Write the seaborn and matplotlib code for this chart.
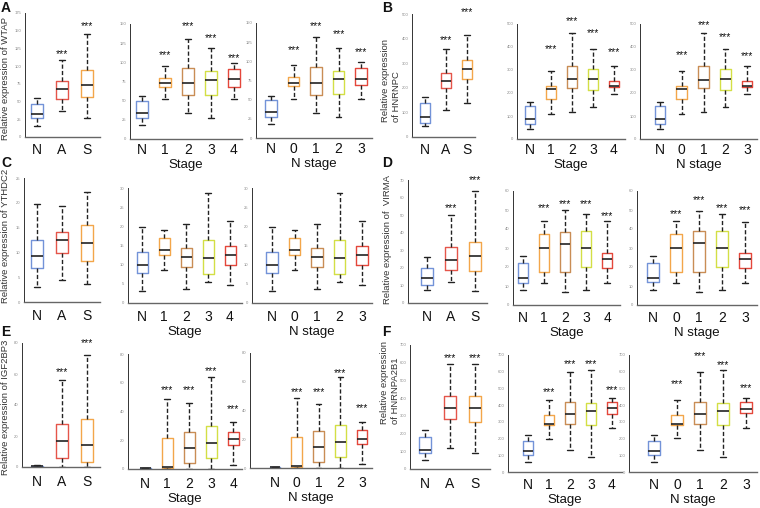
import numpy as np
import pandas as pd
import matplotlib
matplotlib.use("Agg")
import matplotlib.pyplot as plt
import seaborn as sns

sns.set_theme(style="white")
plt.rcParams['font.family'] = ['Liberation Sans', 'DejaVu Sans']

# ---------------- categories ----------------
TISSUE = ["N", "A", "S"]
STAGE = ["N", "1", "2", "3", "4"]
NSTAGE = ["N", "0", "1", "2", "3"]

# ---------------- five-number summaries [min, q1, median, q3, max] ----------------
WTAP_TISSUE = [[16, 27, 33, 47, 55], [37, 53, 68, 79, 109], [27, 57, 74, 94, 146]]
WTAP_STAGE = [[18, 27, 34, 49, 56], [52, 68, 73, 80, 95], [34, 57, 73, 92, 131],
              [27, 58, 77, 89, 119], [52, 68, 78, 91, 99]]
WTAP_NSTAGE = [[18, 28, 34, 50, 55], [51, 68, 72, 80, 95], [33, 56, 72, 92, 132],
               [27, 58, 77, 88, 118], [51, 69, 77, 91, 99]]
WTAP_TISSUE_SIG = [None, 117, 156]
WTAP_STAGE_SIG = [None, 110, 147, 132, 106]
WTAP_NSTAGE_SIG = [None, 115, 146, 136, 112]

HNRNPC_TISSUE = [[43, 57, 81, 140, 162], [108, 199, 227, 262, 359], [140, 235, 276, 313, 413]]
HNRNPC_STAGE = [[43, 65, 88, 142, 161], [110, 174, 217, 232, 297], [117, 222, 259, 316, 461],
                [141, 214, 261, 304, 390], [196, 225, 232, 251, 316]]
HNRNPC_NSTAGE = [[43, 65, 88, 142, 163], [110, 174, 219, 232, 294], [116, 222, 258, 316, 459],
                 [139, 214, 261, 304, 390], [197, 226, 232, 251, 316]]
HNRNPC_TISSUE_SIG = [None, 392, 509]
HNRNPC_STAGE_SIG = [None, 391, 514, 462, 378]
HNRNPC_NSTAGE_SIG = [None, 367, 494, 441, 360]

YTHDC2_TISSUE = [[3.0, 6.9, 9.2, 12.6, 19.8], [4.4, 9.8, 12.4, 14.2, 19.3], [3.7, 8.2, 11.9, 15.5, 22.1]]
YTHDC2_STAGE = [[3.2, 7.8, 10.0, 13.3, 19.8], [8.7, 12.4, 13.9, 16.9, 19.1], [3.7, 9.4, 12.0, 14.3, 20.7],
                [5.6, 7.6, 11.7, 16.4, 28.6], [4.7, 10.0, 12.4, 14.9, 21.5]]
YTHDC2_NSTAGE = [[3.2, 7.8, 10.0, 13.3, 19.8], [8.7, 12.4, 13.9, 16.9, 19.1], [3.7, 9.4, 12.0, 14.3, 20.7],
                 [5.6, 7.6, 11.7, 16.4, 28.6], [4.7, 10.0, 12.4, 14.9, 21.5]]

VIRMA_TISSUE = [[7.4, 10.5, 14, 20, 26], [12, 19, 24.5, 32, 50], [7, 18, 27, 35, 64]]
VIRMA_STAGE = [[7.9, 11.8, 14, 22.3, 26], [11.4, 17.5, 29.8, 37.2, 44.2], [7, 17.5, 32, 38.6, 50],
               [7.9, 20.2, 29.8, 39, 47.7], [11.4, 19.3, 24, 27.2, 44.2]]
VIRMA_NSTAGE = [[8, 12, 14, 22.3, 26], [11.4, 17.5, 29.8, 37.2, 44.2], [7, 17.5, 32.5, 38.9, 49.6],
                [7.9, 20.2, 29.8, 38.9, 47.7], [11.4, 19.3, 24, 27.2, 43.9]]
VIRMA_TISSUE_SIG = [None, 54, 70]
VIRMA_STAGE_SIG = [None, 51, 53, 53, 47]
VIRMA_NSTAGE_SIG = [None, 48, 55, 51, 50]

IGF2BP3_TISSUE = [[0.1, 0.2, 0.4, 0.7, 1.0], [0, 5.5, 17, 27.5, 56], [0, 3.5, 14, 31, 72]]
IGF2BP3_STAGE = [[0.1, 0.2, 0.4, 0.7, 1.0], [0, 0.5, 1.5, 21.5, 48.5], [0, 4.2, 14.6, 26, 45.8],
                 [0, 7.6, 18, 29.6, 64], [3, 17, 20.8, 26, 33]]
IGF2BP3_NSTAGE = [[0.1, 0.2, 0.4, 0.7, 1.0], [0, 0.5, 1.5, 21.5, 48.5], [0, 4.2, 14.3, 26, 44.5],
                  [0, 7.6, 18, 29.6, 63], [2.5, 17, 20.5, 26.5, 32]]
IGF2BP3_TISSUE_SIG = [None, 61, 80]
IGF2BP3_STAGE_SIG = [None, 55, 55, 68, 42]
IGF2BP3_NSTAGE_SIG = [None, 53, 53, 66, 42]

HNRNPA2B1_TISSUE = [[52, 92, 106, 178, 222], [118, 280, 342, 410, 592], [92, 264, 347, 413, 595]]
HNRNPA2B1_STAGE = [[58, 100, 124, 186, 222], [200, 280, 286, 342, 432], [132, 290, 348, 420, 596],
                   [92, 280, 364, 412, 612], [264, 350, 380, 418, 444]]
HNRNPA2B1_NSTAGE = [[58, 100, 124, 186, 222], [202, 280, 286, 342, 428], [132, 290, 348, 418, 598],
                    [92, 280, 362, 412, 612], [264, 352, 378, 418, 444]]
HNRNPA2B1_TISSUE_SIG = [None, 628, 628]
HNRNPA2B1_STAGE_SIG = [None, 478, 648, 648, 492]
HNRNPA2B1_NSTAGE_SIG = [None, 526, 692, 640, 500]

# ---------------- styles ----------------
BLUE, RED, ORANGE, BROWN, LIME = "#7393d8", "#e5554a", "#f3a64a", "#c98d55", "#d3df45"
TISSUE_COLORS = [BLUE, RED, ORANGE]
STAGE_COLORS = [BLUE, ORANGE, BROWN, LIME, "#e4473b"]

W, H = 760, 508
fig = plt.figure(figsize=(W / 100, H / 100), dpi=100)
fig.patch.set_facecolor("white")


def ftxt(x, y, s, **kw):
    fig.text(x / W, 1 - y / H, s, **kw)


def draw(rect, c0, sp, ymax, step, cats, boxes, colors, sig=None, xlabel=None, pad=3):
    L, R, T, B = rect
    ax = fig.add_axes([L / W, 1 - B / H, (R - L) / W, (B - T) / H])
    df = pd.DataFrame({"group": np.repeat(cats, 5),
                       "value": np.concatenate([np.asarray(b, float) for b in boxes])})
    sns.boxplot(data=df, x="group", y="value", hue="group", order=cats, hue_order=cats,
                palette=dict(zip(cats, colors)), fill=False, width=0.5, whis=(0, 100),
                linewidth=1.0, showfliers=False, legend=False, ax=ax,
                whiskerprops={"color": "#222222", "linestyle": (0, (3, 1.6)), "linewidth": 1.0},
                capprops={"color": "#222222", "linewidth": 1.0},
                medianprops={"color": "#222222", "linewidth": 1.2})
    ax.set_xlim((L - c0) / sp, (R - c0) / sp)
    ax.set_ylim(0, ymax)
    ax.set_yticks(np.arange(0, ymax + 0.001, step))
    ax.tick_params(axis="y", length=1.5, width=0.5, labelsize=3, colors="#888888", pad=1)
    ax.tick_params(axis="x", length=0, labelsize=10, pad=pad, labelcolor="#111111")
    ax.set_ylabel("")
    ax.set_xlabel(xlabel if xlabel else "", fontsize=9.5, labelpad=1.5, color="#111111")
    for side in ("top", "right"):
        ax.spines[side].set_visible(False)
    ax.spines["left"].set_color("#333333")
    ax.spines["left"].set_linewidth(0.7)
    ax.spines["bottom"].set_color("#666666")
    ax.spines["bottom"].set_linewidth(1.0)
    ax.grid(False)
    if sig:
        for i, y in enumerate(sig):
            if y is not None:
                ax.text(i, y, "***", ha="center", va="center", fontsize=7.5,
                        color="#111111", clip_on=False)
    return ax


# Row 1
draw((25, 100, 13, 137), 37, 25, 175, 25, TISSUE, WTAP_TISSUE, TISSUE_COLORS, WTAP_TISSUE_SIG, pad=4)
draw((130, 242, 24, 139), 142, 23, 150, 25, STAGE, WTAP_STAGE, STAGE_COLORS, WTAP_STAGE_SIG, "Stage", pad=3)
draw((256, 372, 23, 138), 271, 22.5, 150, 25, NSTAGE, WTAP_NSTAGE, STAGE_COLORS, WTAP_NSTAGE_SIG, "N stage", pad=3)
draw((412, 475, 14, 137), 425, 21, 500, 100, TISSUE, HNRNPC_TISSUE, TISSUE_COLORS, HNRNPC_TISSUE_SIG, pad=4)
draw((517, 625, 24, 139), 530, 21, 500, 100, STAGE, HNRNPC_STAGE, STAGE_COLORS, HNRNPC_STAGE_SIG, "Stage", pad=3)
draw((640, 757, 24, 139), 660, 21.75, 500, 100, NSTAGE, HNRNPC_NSTAGE, STAGE_COLORS, HNRNPC_NSTAGE_SIG, "N stage", pad=3)

# Row 2
draw((24, 100, 178, 302), 37, 25, 25, 5, TISSUE, YTHDC2_TISSUE, TISSUE_COLORS, pad=5)
draw((128, 242, 188, 303), 142, 22, 30, 5, STAGE, YTHDC2_STAGE, STAGE_COLORS, None, "Stage", pad=5)
draw((252, 372, 188, 303), 272, 22.5, 30, 5, NSTAGE, YTHDC2_NSTAGE, STAGE_COLORS, None, "N stage", pad=5)
draw((408, 487, 180, 303), 427, 24, 70, 10, TISSUE, VIRMA_TISSUE, TISSUE_COLORS, VIRMA_TISSUE_SIG, pad=5)
draw((513, 620, 191, 305), 523, 21, 60, 10, STAGE, VIRMA_STAGE, STAGE_COLORS, VIRMA_STAGE_SIG, "Stage", pad=4)
draw((637, 757, 191, 305), 653, 23, 60, 10, NSTAGE, VIRMA_NSTAGE, STAGE_COLORS, VIRMA_NSTAGE_SIG, "N stage", pad=4)

# Row 3
draw((22, 100, 343, 467), 37, 25, 80, 20, TISSUE, IGF2BP3_TISSUE, TISSUE_COLORS, IGF2BP3_TISSUE_SIG, pad=6)
draw((128, 242, 354, 469), 145, 22, 80, 20, STAGE, IGF2BP3_STAGE, STAGE_COLORS, IGF2BP3_STAGE_SIG, "Stage", pad=6)
draw((250, 372, 353, 468), 275, 21.75, 80, 20, NSTAGE, IGF2BP3_NSTAGE, STAGE_COLORS, IGF2BP3_NSTAGE_SIG, "N stage", pad=6)
draw((410, 490, 345, 469), 425, 25, 700, 100, TISSUE, HNRNPA2B1_TISSUE, TISSUE_COLORS, HNRNPA2B1_TISSUE_SIG, pad=6)
draw((508, 622, 355, 472), 528, 21.0, 700, 100, STAGE, HNRNPA2B1_STAGE, STAGE_COLORS, HNRNPA2B1_STAGE_SIG, "Stage", pad=4)
draw((629, 757, 355, 472), 654, 23.0, 700, 100, NSTAGE, HNRNPA2B1_NSTAGE, STAGE_COLORS, HNRNPA2B1_NSTAGE_SIG, "N stage", pad=4)

# Y-axis titles
ylab = dict(rotation=90, ha="center", va="center", fontsize=6.8, color="#333333")
ftxt(6, 78, "Relative expression of WTAP", **ylab)
ftxt(391, 81, "Relative expression\nof HNRNPC", multialignment="left", **ylab)
ftxt(6, 236, "Relative expression of YTHDC2", **ylab)
ftxt(388, 240, "Relative expression of  VIRMA", **ylab)
ftxt(6, 407, "Relative expression of IGF2BP3", **ylab)
ftxt(390, 382, "Relative expression\nof HNRNPA2B1", multialignment="left", **ylab)

# Panel letters
plab = dict(fontsize=10, fontweight="bold", ha="left", va="center", color="#111111")
ftxt(1, 8, "A", **plab)
ftxt(382, 8, "B", **plab)
ftxt(1, 163, "C", **plab)
ftxt(382, 163, "D", **plab)
ftxt(1, 332, "E", **plab)
ftxt(382, 332, "F", **plab)

fig.savefig("out.png", dpi=100, facecolor="white")
